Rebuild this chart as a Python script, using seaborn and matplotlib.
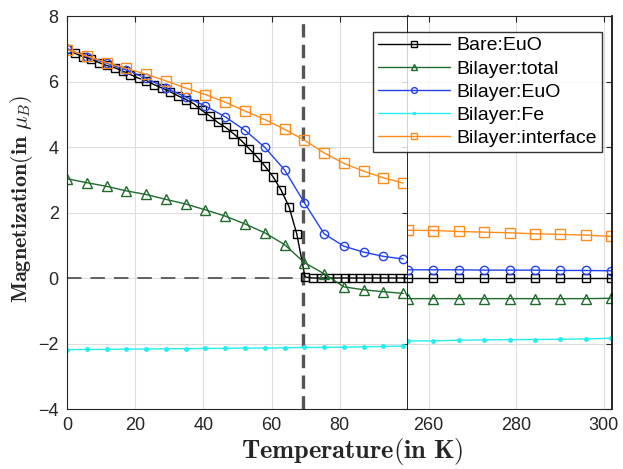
import matplotlib
matplotlib.use('Agg')
import matplotlib.pyplot as plt
import seaborn as sns

# --- data ---
# Bare:EuO, fine temperature grid on the low-T part
t_bare_low = [0, 2.3, 4.7, 7.0, 9.3, 11.6, 14.0, 16.3, 18.6, 21.0, 23.3, 25.6, 27.9, 30.2, 32.6,
              34.9, 37.2, 39.5, 41.9, 44.2, 46.5, 48.8, 51.2, 53.5, 55.8, 58.1, 60.5, 62.8, 65.1,
              67.4, 69.8, 72.1, 74.4, 76.7, 79.1, 81.4, 83.7, 86.0, 88.4, 90.7, 93.0, 95.3, 97.7, 100.0]
m_bare_low = [7.0, 6.86, 6.76, 6.68, 6.58, 6.49, 6.42, 6.32, 6.21, 6.10, 6.03, 5.90, 5.80, 5.69, 5.56,
              5.45, 5.32, 5.12, 4.95, 4.75, 4.60, 4.41, 4.19, 3.94, 3.69, 3.41, 3.08, 2.68, 2.18,
              1.34, 0.03, 0.0, 0.0, 0.0, 0.0, 0.0, 0.0, 0.0, 0.0, 0.0, 0.0, 0.0, 0.0, 0.0]

# bilayer series, coarse grid
t_low = [0, 5.8, 11.6, 17.4, 23.2, 29.0, 34.8, 40.6, 46.4, 52.2, 58.0, 63.8, 69.6, 75.4, 81.2,
         87.0, 92.8, 98.6]
t_high = [255.3, 261.1, 266.9, 272.7, 278.5, 284.3, 290.1, 295.9, 301.7]

m_bare_high = [0.0, 0.0, 0.0, 0.0, 0.0, 0.0, 0.0, 0.0, 0.0]

m_total_low = [3.03, 2.91, 2.80, 2.66, 2.55, 2.40, 2.26, 2.08, 1.89, 1.65, 1.38, 1.02, 0.47,
               0.13, -0.27, -0.36, -0.42, -0.47]
m_total_high = [-0.63, -0.63, -0.63, -0.63, -0.63, -0.63, -0.63, -0.63, -0.62]

m_euo_low = [7.0, 6.76, 6.56, 6.35, 6.10, 5.80, 5.53, 5.25, 4.92, 4.51, 3.99, 3.30, 2.30,
             1.35, 0.97, 0.79, 0.66, 0.58]
m_euo_high = [0.25, 0.25, 0.25, 0.24, 0.24, 0.24, 0.23, 0.23, 0.22]

m_fe_low = [-2.19, -2.18, -2.18, -2.17, -2.17, -2.16, -2.16, -2.15, -2.15, -2.14, -2.14,
            -2.13, -2.12, -2.12, -2.11, -2.10, -2.09, -2.08]
m_fe_high = [-1.92, -1.92, -1.90, -1.89, -1.88, -1.88, -1.87, -1.86, -1.84]

m_int_low = [6.97, 6.78, 6.58, 6.40, 6.22, 6.02, 5.80, 5.60, 5.37, 5.10, 4.84, 4.54, 4.21,
             3.82, 3.50, 3.26, 3.06, 2.90]
m_int_high = [1.46, 1.45, 1.42, 1.40, 1.38, 1.35, 1.33, 1.31, 1.27]

t_curie = 69.1

# --- styl ---
sns.set_theme(style='white')
plt.rcParams['font.family'] = ['Liberation Sans', 'DejaVu Sans']
plt.rcParams['mathtext.fontset'] = 'cm'

barva_bare = 'black'
barva_total = '#1f6b2c'
barva_euo = '#2142ee'
barva_fe = '#22eeee'
barva_int = '#ff8c1a'

fig = plt.figure(figsize=(6.23, 4.69), dpi=100)
ax_l = fig.add_axes([67 / 623, 1 - 409 / 469, 341 / 623, 393 / 469])
ax_r = fig.add_axes([408 / 623, 1 - 409 / 469, 204 / 623, 393 / 469], sharey=ax_l)

styly = [
    (t_bare_low, m_bare_low, m_bare_high, 'Bare:EuO', barva_bare,
     dict(marker='s', markersize=5.5, markerfacecolor='none', markeredgewidth=1.0)),
    (t_low, m_total_low, m_total_high, 'Bilayer:total', barva_total,
     dict(marker='^', markersize=6.5, markerfacecolor='none', markeredgewidth=1.0)),
    (t_low, m_euo_low, m_euo_high, 'Bilayer:EuO', barva_euo,
     dict(marker='o', markersize=6, markerfacecolor='none', markeredgewidth=1.0)),
    (t_low, m_fe_low, m_fe_high, 'Bilayer:Fe', barva_fe,
     dict(marker='.', markersize=7, markeredgewidth=0)),
    (t_low, m_int_low, m_int_high, 'Bilayer:interface', barva_int,
     dict(marker='s', markersize=6.5, markerfacecolor='none', markeredgewidth=1.0)),
]

for t_l, m_l, m_h, popisek, barva, kw in styly:
    sns.lineplot(x=t_l, y=m_l, ax=ax_l, color=barva, markeredgecolor=barva,
                 linewidth=1.0, label=popisek, legend=False, **kw)
    sns.lineplot(x=t_high, y=m_h, ax=ax_r, color=barva, markeredgecolor=barva,
                 linewidth=1.0, legend=False, **kw)

# pomocné čáry
ax_l.plot([0, t_curie], [0, 0], color='#555555', lw=1.3, dashes=(8, 5), zorder=1)
ax_l.axvline(t_curie, color='#555555', lw=2.4, dashes=(4, 2.2), zorder=1)

ax_l.set_xlim(0, 100)
ax_r.set_xlim(255.3, 301.9)
ax_l.set_ylim(-4, 8)
ax_l.set_xticks([0, 20, 40, 60, 80])
ax_r.set_xticks([260, 280, 300])
ax_l.set_yticks([-4, -2, 0, 2, 4, 6, 8])

for ax in (ax_l, ax_r):
    ax.grid(True, color='#dddddd', lw=0.8)
    ax.tick_params(direction='in', length=4, width=0.8, colors='#262626',
                   labelsize=13, top=True, right=True, pad=6)
    for s in ax.spines.values():
        s.set_color('#262626')
        s.set_linewidth(0.8)
    ax.set_xlabel('')
    ax.set_ylabel('')

ax_r.tick_params(labelleft=False)
ax_l.spines['right'].set_color('black')
ax_l.spines['right'].set_linewidth(1.2)
ax_r.spines['left'].set_visible(False)
ax_r.spines['right'].set_color('black')
ax_r.spines['right'].set_linewidth(1.2)

fig.text(352 / 623, 1 - 451 / 469, r'$\mathbf{Temperature(in\ K)}$', ha='center', va='center',
         fontsize=19, color='#262626')
fig.text(22 / 623, 1 - 199 / 469, r'$\mathbf{Magnetization(in\ }\mu_B\mathbf{)}$', ha='center',
         va='center', rotation=90, fontsize=16, color='#262626')

h, lab = ax_l.get_legend_handles_labels()
leg = fig.legend(h, lab, loc='upper right', bbox_to_anchor=(602 / 623, 1 - 32 / 469),
                 fontsize=14, frameon=True, fancybox=False, edgecolor='black',
                 handlelength=3.7, handletextpad=0.35, labelspacing=0.28, borderpad=0.25,
                 markerscale=0.7, borderaxespad=0)
leg.get_frame().set_linewidth(1.0)
for t in leg.get_texts():
    t.set_color('black')

fig.savefig('out.png', dpi=100)
